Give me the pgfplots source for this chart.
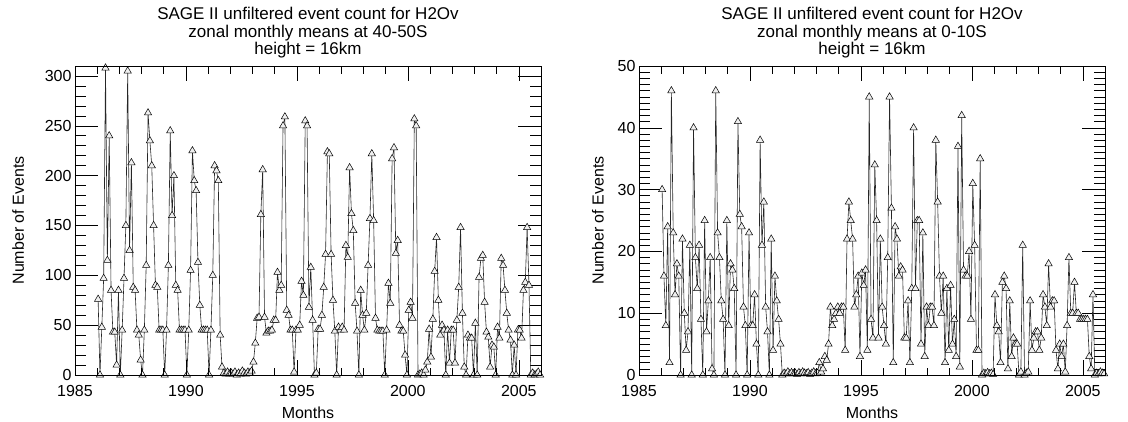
\documentclass[border=0pt]{standalone}
\usepackage{fontspec}
\setmainfont{Liberation Sans}
\usepackage{pgfplots}
\usepackage{pgfplotstable}
\pgfplotsset{compat=1.18}

% SAGE II event counts, 40-50S (year, month, count)
\pgfplotstableread[row sep=\\]{
yr mo v\\
1986 1 76\\ 1986 2 0\\ 1986 3 48\\ 1986 4 97\\ 1986 5 308\\ 1986 6 115\\ 1986 7 240\\ 1986 8 85\\ 1986 9 43\\ 1986 10 43\\ 1986 11 10\\ 1986 12 85\\
1987 1 0\\ 1987 2 45\\ 1987 3 97\\ 1987 4 150\\ 1987 5 305\\ 1987 6 125\\ 1987 7 213\\ 1987 8 88\\ 1987 9 85\\ 1987 10 45\\ 1987 11 40\\ 1987 12 15\\
1988 1 0\\ 1988 2 45\\ 1988 3 110\\ 1988 4 263\\ 1988 5 235\\ 1988 6 210\\ 1988 7 150\\ 1988 8 90\\ 1988 9 88\\ 1988 10 45\\ 1988 11 45\\ 1988 12 45\\
1989 1 0\\ 1989 2 45\\ 1989 3 110\\ 1989 4 245\\ 1989 5 160\\ 1989 6 200\\ 1989 7 90\\ 1989 8 85\\ 1989 9 45\\ 1989 10 45\\ 1989 11 45\\ 1989 12 45\\
1990 1 0\\ 1990 2 45\\ 1990 3 105\\ 1990 4 225\\ 1990 5 195\\ 1990 6 185\\ 1990 7 113\\ 1990 8 70\\ 1990 9 45\\ 1990 10 45\\ 1990 11 45\\ 1990 12 45\\
1991 1 0\\ 1991 2 45\\ 1991 3 100\\ 1991 4 210\\ 1991 5 205\\ 1991 6 195\\ 1991 7 40\\ 1991 8 8\\ 1991 9 2\\ 1991 10 1\\ 1991 11 3\\ 1991 12 1\\
1992 1 2\\ 1992 2 1\\ 1992 3 3\\ 1992 4 0\\ 1992 5 2\\ 1992 6 1\\ 1992 7 4\\ 1992 8 2\\ 1992 9 1\\ 1992 10 3\\ 1992 11 2\\ 1992 12 4\\
1993 1 13\\ 1993 2 32\\ 1993 3 57\\ 1993 4 58\\ 1993 5 161\\ 1993 6 206\\ 1993 7 58\\ 1993 8 42\\ 1993 9 44\\ 1993 10 44\\ 1993 11 45\\ 1993 12 55\\
1994 1 55\\ 1994 2 103\\ 1994 3 85\\ 1994 4 90\\ 1994 5 250\\ 1994 6 259\\ 1994 7 65\\ 1994 8 60\\ 1994 9 45\\ 1994 10 45\\ 1994 11 3\\ 1994 12 45\\
1995 1 45\\ 1995 2 50\\ 1995 3 94\\ 1995 4 80\\ 1995 5 255\\ 1995 6 250\\ 1995 7 68\\ 1995 8 108\\ 1995 9 55\\ 1995 10 0\\ 1995 11 2\\ 1995 12 46\\
1996 1 46\\ 1996 2 60\\ 1996 3 88\\ 1996 4 121\\ 1996 5 224\\ 1996 6 222\\ 1996 7 121\\ 1996 8 75\\ 1996 9 44\\ 1996 10 0\\ 1996 11 48\\ 1996 12 45\\
1997 1 48\\ 1997 2 45\\ 1997 3 130\\ 1997 4 118\\ 1997 5 208\\ 1997 6 162\\ 1997 7 145\\ 1997 8 72\\ 1997 9 44\\ 1997 10 0\\ 1997 11 85\\ 1997 12 60\\
1998 1 45\\ 1998 2 62\\ 1998 3 110\\ 1998 4 157\\ 1998 5 222\\ 1998 6 155\\ 1998 7 57\\ 1998 8 45\\ 1998 9 44\\ 1998 10 44\\ 1998 11 44\\ 1998 12 0\\
1999 1 45\\ 1999 2 92\\ 1999 3 72\\ 1999 4 217\\ 1999 5 228\\ 1999 6 122\\ 1999 7 135\\ 1999 8 50\\ 1999 9 44\\ 1999 10 44\\ 1999 11 20\\ 1999 12 0\\
2000 1 65\\ 2000 2 73\\ 2000 3 57\\ 2000 4 257\\ 2000 5 250\\ 2000 6 0\\ 2000 7 1\\ 2000 8 2\\ 2000 9 0\\ 2000 10 5\\ 2000 11 13\\ 2000 12 46\\
2001 1 18\\ 2001 2 56\\ 2001 3 104\\ 2001 4 138\\ 2001 5 75\\ 2001 6 40\\ 2001 7 50\\ 2001 8 45\\ 2001 9 0\\ 2001 10 45\\ 2001 11 12\\ 2001 12 45\\
2002 1 45\\ 2002 2 12\\ 2002 3 55\\ 2002 4 88\\ 2002 5 148\\ 2002 6 62\\ 2002 7 8\\ 2002 8 0\\ 2002 9 40\\ 2002 10 37\\ 2002 11 37\\ 2002 12 0\\
2003 1 52\\ 2003 2 0\\ 2003 3 98\\ 2003 4 117\\ 2003 5 120\\ 2003 6 73\\ 2003 7 43\\ 2003 8 38\\ 2003 9 8\\ 2003 10 30\\ 2003 11 28\\ 2003 12 0\\
2004 1 48\\ 2004 2 37\\ 2004 3 117\\ 2004 4 110\\ 2004 5 85\\ 2004 6 62\\ 2004 7 45\\ 2004 8 35\\ 2004 9 0\\ 2004 10 30\\ 2004 11 0\\ 2004 12 45\\
2005 1 45\\ 2005 2 37\\ 2005 3 85\\ 2005 4 93\\ 2005 5 148\\ 2005 6 90\\ 2005 7 0\\ 2005 8 2\\ 2005 9 0\\ 2005 10 1\\ 2005 11 3\\ 2005 12 0\\
}\southdata

% SAGE II event counts, 0-10S (year, month, count)
\pgfplotstableread[row sep=\\]{
yr mo v\\
1986 1 30\\ 1986 2 16\\ 1986 3 8\\ 1986 4 24\\ 1986 5 2\\ 1986 6 46\\ 1986 7 23\\ 1986 8 13\\ 1986 9 18\\ 1986 10 16\\ 1986 11 0\\ 1986 12 22\\
1987 1 10\\ 1987 2 4\\ 1987 3 7\\ 1987 4 21\\ 1987 5 0\\ 1987 6 40\\ 1987 7 19\\ 1987 8 14\\ 1987 9 21\\ 1987 10 9\\ 1987 11 0\\ 1987 12 25\\
1988 1 7\\ 1988 2 12\\ 1988 3 19\\ 1988 4 1\\ 1988 5 0\\ 1988 6 46\\ 1988 7 23\\ 1988 8 19\\ 1988 9 12\\ 1988 10 9\\ 1988 11 0\\ 1988 12 25\\
1989 1 8\\ 1989 2 18\\ 1989 3 17\\ 1989 4 14\\ 1989 5 0\\ 1989 6 41\\ 1989 7 26\\ 1989 8 24\\ 1989 9 11\\ 1989 10 8\\ 1989 11 0\\ 1989 12 23\\
1990 1 8\\ 1990 2 8\\ 1990 3 13\\ 1990 4 5\\ 1990 5 0\\ 1990 6 38\\ 1990 7 21\\ 1990 8 28\\ 1990 9 11\\ 1990 10 7\\ 1990 11 0\\ 1990 12 22\\
1991 1 4\\ 1991 2 16\\ 1991 3 12\\ 1991 4 9\\ 1991 5 5\\ 1991 6 0\\ 1991 7 0.3\\ 1991 8 0.2\\ 1991 9 0.5\\ 1991 10 0.2\\ 1991 11 0.4\\ 1991 12 0.2\\
1992 1 0.3\\ 1992 2 0.1\\ 1992 3 0.4\\ 1992 4 0.2\\ 1992 5 0.5\\ 1992 6 0.3\\ 1992 7 0.2\\ 1992 8 0.4\\ 1992 9 0.1\\ 1992 10 0.3\\ 1992 11 0.5\\ 1992 12 0.2\\
1993 1 0.3\\ 1993 2 2\\ 1993 3 0.5\\ 1993 4 1\\ 1993 5 3\\ 1993 6 2.4\\ 1993 7 5\\ 1993 8 11\\ 1993 9 8\\ 1993 10 9\\ 1993 11 10\\ 1993 12 11\\
1994 1 10\\ 1994 2 11\\ 1994 3 11\\ 1994 4 4\\ 1994 5 22\\ 1994 6 28\\ 1994 7 25\\ 1994 8 22\\ 1994 9 11\\ 1994 10 13\\ 1994 11 16\\ 1994 12 3\\
1995 1 16.5\\ 1995 2 14.5\\ 1995 3 17\\ 1995 4 4\\ 1995 5 45\\ 1995 6 9\\ 1995 7 6\\ 1995 8 34\\ 1995 9 25\\ 1995 10 6\\ 1995 11 22\\ 1995 12 11\\
1996 1 8\\ 1996 2 5\\ 1996 3 19\\ 1996 4 45\\ 1996 5 27\\ 1996 6 2\\ 1996 7 24\\ 1996 8 22\\ 1996 9 16\\ 1996 10 17.5\\ 1996 11 17\\ 1996 12 6\\
1997 1 6\\ 1997 2 12\\ 1997 3 2\\ 1997 4 14\\ 1997 5 40\\ 1997 6 14\\ 1997 7 25\\ 1997 8 25\\ 1997 9 5\\ 1997 10 23\\ 1997 11 3\\ 1997 12 11\\
1998 1 8\\ 1998 2 11\\ 1998 3 11\\ 1998 4 8\\ 1998 5 38\\ 1998 6 28\\ 1998 7 16\\ 1998 8 10\\ 1998 9 16\\ 1998 10 2\\ 1998 11 14\\ 1998 12 4\\
1999 1 14.5\\ 1999 2 5\\ 1999 3 9\\ 1999 4 3\\ 1999 5 37\\ 1999 6 1.3\\ 1999 7 42\\ 1999 8 17\\ 1999 9 16\\ 1999 10 16\\ 1999 11 20\\ 1999 12 9\\
2000 1 31\\ 2000 2 21\\ 2000 3 4\\ 2000 4 4\\ 2000 5 35\\ 2000 6 0\\ 2000 7 0.3\\ 2000 8 0.2\\ 2000 9 0.4\\ 2000 10 0.2\\ 2000 11 0.3\\ 2000 12 0.1\\
2001 1 13\\ 2001 2 8\\ 2001 3 7\\ 2001 4 2\\ 2001 5 15\\ 2001 6 16\\ 2001 7 14\\ 2001 8 1\\ 2001 9 12\\ 2001 10 3\\ 2001 11 6\\ 2001 12 5\\
2002 1 5\\ 2002 2 0\\ 2002 3 0.5\\ 2002 4 21\\ 2002 5 0\\ 2002 6 0.3\\ 2002 7 0.5\\ 2002 8 12\\ 2002 9 4\\ 2002 10 6\\ 2002 11 7\\ 2002 12 7\\
2003 1 4\\ 2003 2 6\\ 2003 3 13\\ 2003 4 11\\ 2003 5 8\\ 2003 6 18\\ 2003 7 11\\ 2003 8 12\\ 2003 9 12\\ 2003 10 4\\ 2003 11 1\\ 2003 12 5\\
2004 1 3\\ 2004 2 5\\ 2004 3 0.5\\ 2004 4 8\\ 2004 5 19\\ 2004 6 10\\ 2004 7 10\\ 2004 8 15\\ 2004 9 10\\ 2004 10 10\\ 2004 11 9\\ 2004 12 9\\
2005 1 9\\ 2005 2 9\\ 2005 3 9\\ 2005 4 3\\ 2005 5 1\\ 2005 6 13\\ 2005 7 0\\ 2005 8 0.3\\ 2005 9 0.2\\ 2005 10 0.5\\ 2005 11 0.3\\ 2005 12 0.2\\
}\equatordata

\newcommand{\labfont}{\fontsize{16}{16}\selectfont}

\pgfplotsset{
  frame/.style={
    scale only axis, width=466pt, height=309pt,
    xmin=1985, xmax=2006,
    tick align=inside, xtick pos=both, ytick pos=both,
    axis line style={line width=0.8pt},
    tick style={line width=0.6pt, black},
  },
  sage/.style={
    frame,
    xtick={1985,1990,1995,2000,2005},
    xtick style={draw=none},
    major tick length=23pt, minor tick length=11.5pt,
    /pgf/number format/assume math mode=true,
    /pgf/number format/1000 sep={},
    ticklabel style={font=\labfont},
    xticklabel style={yshift=-7pt},
    xlabel={Months},
    ylabel={Number of Events},
    xlabel style={font=\labfont, at={(axis description cs:0.5,0)}, anchor=center, yshift=-38pt},
    ylabel style={font=\labfont, rotate=0, anchor=center},
    title style={font=\fontsize{17}{17.5}\selectfont, align=center,
      at={(axis description cs:0.5,1)}, anchor=north, yshift=56pt},
    clip=false,
  },
  xticks/.style={
    frame,
    xtick={1985,1990,1995,2000,2005}, minor x tick num=4,
    xticklabels={}, ytick=\empty,
    major tick length=15pt, minor tick length=7.5pt,
  },
  evt/.style={black!85, line width=0.6pt, mark=triangle*, mark size=4.2pt,
    mark options={fill=gray!12, draw=black, line width=0.5pt}},
}

\begin{document}
\begin{tikzpicture}
\path[use as bounding box] (0,0) rectangle (1128pt,421pt);

\begin{axis}[sage, at={(75pt,46pt)}, anchor=south west,
  ymin=0, ymax=310, ytick={0,50,...,300}, minor y tick num=4,
  ylabel style={at={(axis description cs:-0.122,0.5)}},
  title={SAGE II unfiltered event count for H2Ov\\zonal monthly means at 40-50S\\height = 16km}]
\addplot[evt] table[x expr={\thisrow{yr}+(\thisrow{mo}-0.5)/12}, y=v] {\southdata};
\end{axis}
\begin{axis}[xticks, at={(75pt,46pt)}, anchor=south west, ymin=0, ymax=310]
\end{axis}

\begin{axis}[sage, at={(639pt,46pt)}, anchor=south west,
  ymin=0, ymax=50, ytick={0,10,...,50}, minor y tick num=9,
  ylabel style={at={(axis description cs:-0.088,0.5)}},
  title={SAGE II unfiltered event count for H2Ov\\zonal monthly means at 0-10S\\height = 16km}]
\addplot[evt] table[x expr={\thisrow{yr}+(\thisrow{mo}-0.5)/12}, y=v] {\equatordata};
\end{axis}
\begin{axis}[xticks, at={(639pt,46pt)}, anchor=south west, ymin=0, ymax=50]
\end{axis}
\end{tikzpicture}
\end{document}
